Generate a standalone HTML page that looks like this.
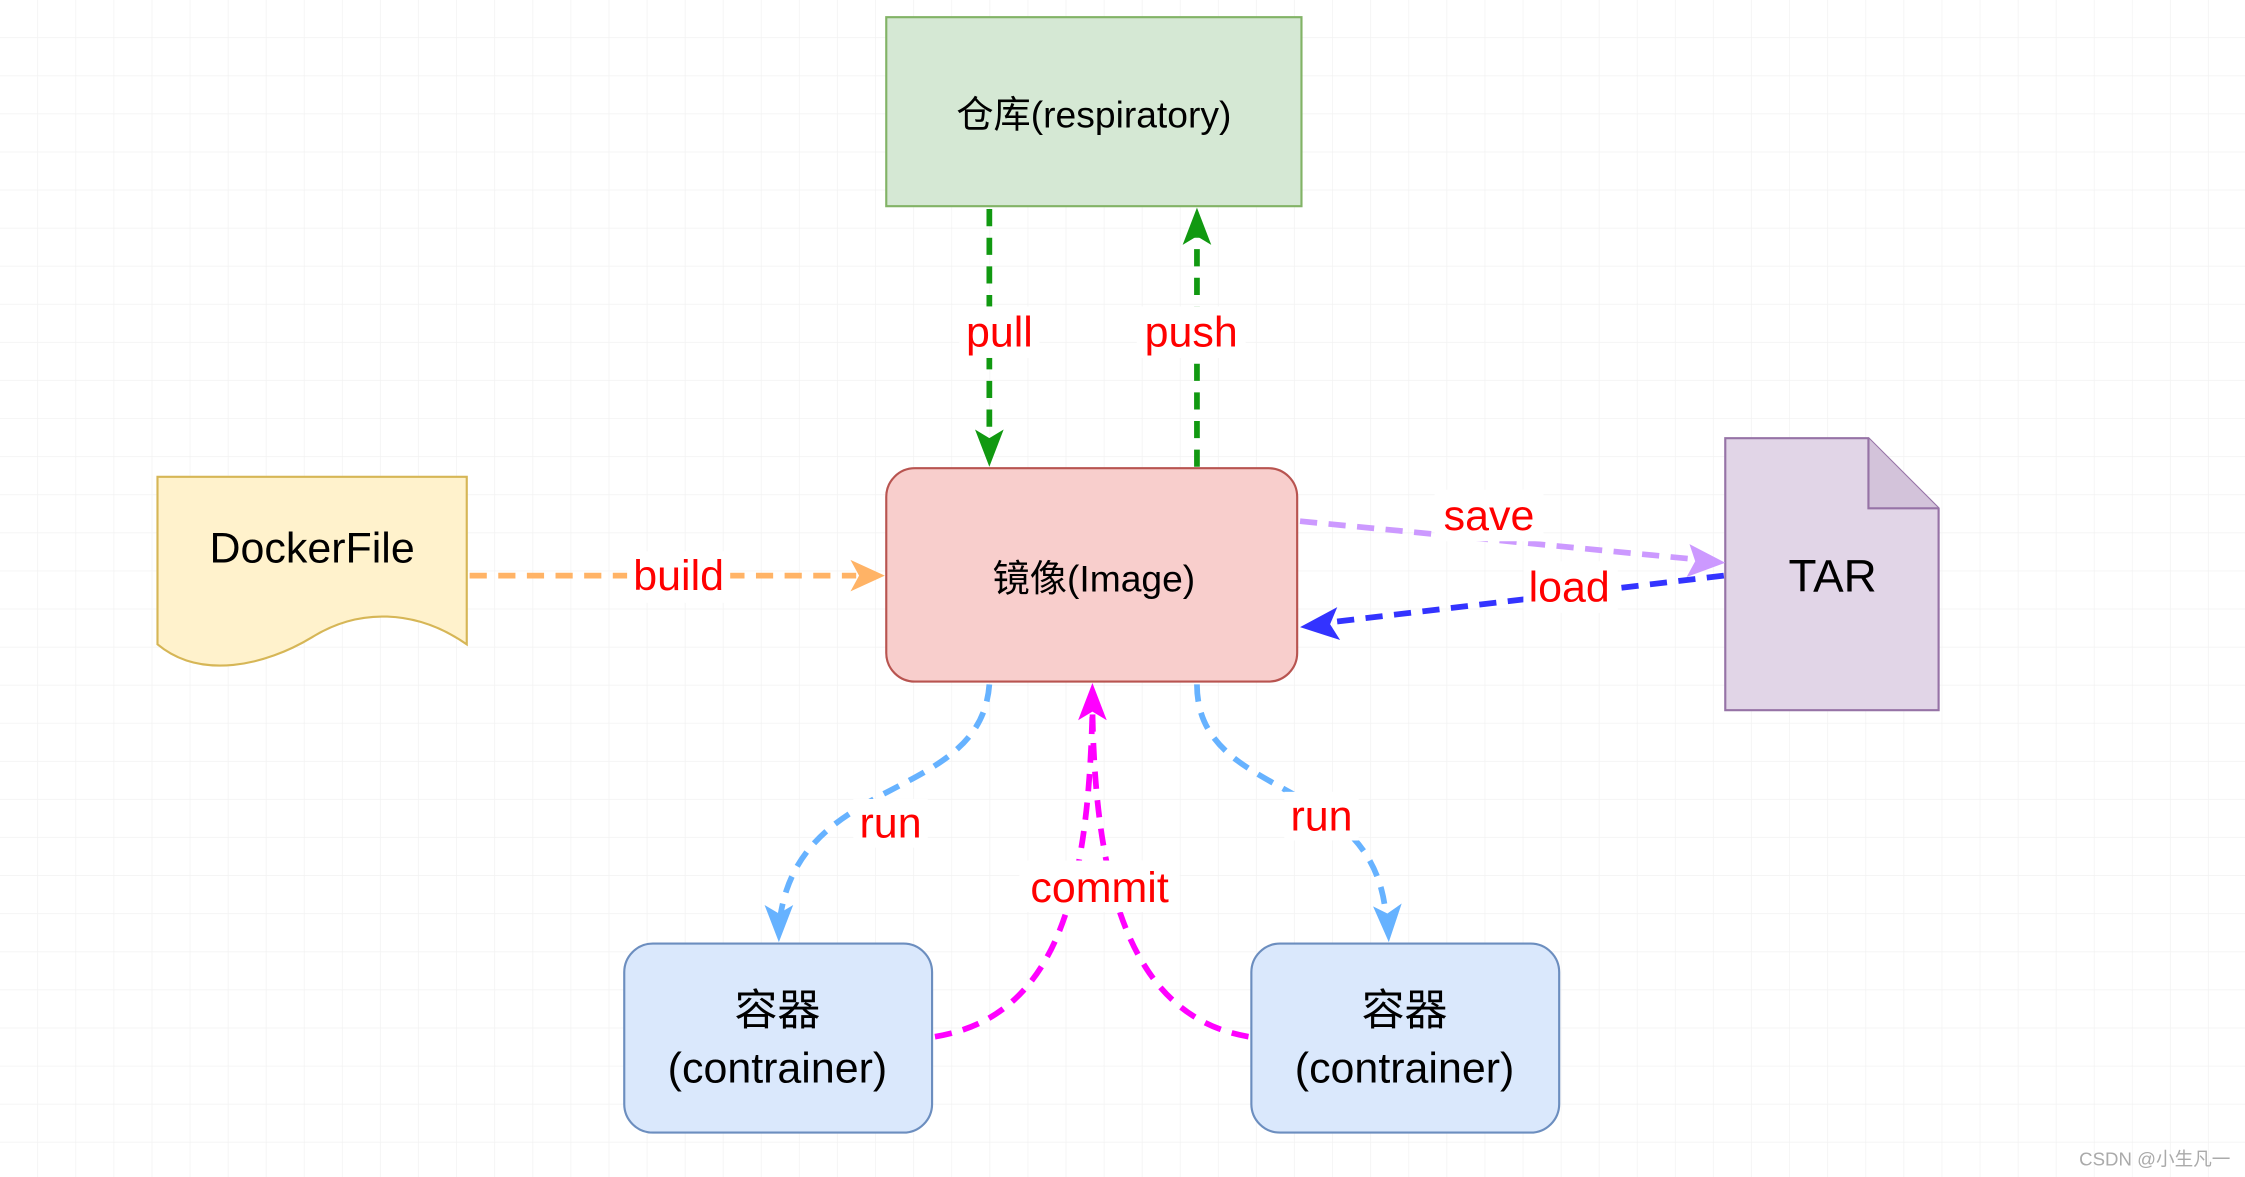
<!DOCTYPE html>
<html><head><meta charset="utf-8"><style>
html,body{margin:0;padding:0;background:#fff;}
svg{display:block;}
text{font-family:"Liberation Sans","Noto Sans CJK SC",sans-serif;}
</style></head><body>
<svg width="2245" height="1177" viewBox="0 0 1568 822" preserveAspectRatio="none" xmlns="http://www.w3.org/2000/svg">
<defs>
<pattern id="g" width="26.6" height="26.6" patternUnits="userSpaceOnUse"><path d="M26.6 0V26.6H0" fill="none" stroke="#f2f2f2" stroke-width="1"/></pattern>
<marker id="ag" markerWidth="10" markerHeight="10" refX="7" refY="5" orient="auto" markerUnits="userSpaceOnUse" viewBox="0 0 10 10"><path d="M0 0L10 5L0 10L3 5Z" fill="#119911"/></marker>
</defs>
<rect width="1568" height="822" fill="#fff"/>
<rect width="1568" height="822" fill="url(#g)"/>
<!-- boxes -->
<rect x="619" y="12" width="290" height="132" fill="#d5e8d4" stroke="#82b366" stroke-width="1.5"/>
<text x="764" y="89" font-size="26" text-anchor="middle">仓库(respiratory)</text>
<rect x="619" y="327" width="287" height="149" rx="20" fill="#f8cecc" stroke="#b85450" stroke-width="1.5"/>
<text x="764" y="413" font-size="26" text-anchor="middle">镜像(Image)</text>
<path d="M110 333H326V450C290 425 250 425 218 445C185 465 140 475 110 450Z" fill="#fff2cc" stroke="#d6b656" stroke-width="1.5"/>
<text x="218" y="393" font-size="30" text-anchor="middle">DockerFile</text>
<path d="M1205 306H1305L1354 355V496H1205Z" fill="#e1d5e7" stroke="#9673a6" stroke-width="1.5"/>
<path d="M1305 306V355H1354" fill="#d3c3da" stroke="#9673a6" stroke-width="1.5"/>
<text x="1280" y="413" font-size="32" text-anchor="middle">TAR</text>
<rect x="436" y="659" width="215" height="132" rx="20" fill="#dae8fc" stroke="#6c8ebf" stroke-width="1.5"/>
<text x="543" y="716" font-size="30" text-anchor="middle">容器</text>
<text x="543" y="756" font-size="30" text-anchor="middle">(contrainer)</text>
<rect x="874" y="659" width="215" height="132" rx="20" fill="#dae8fc" stroke="#6c8ebf" stroke-width="1.5"/>
<text x="981" y="716" font-size="30" text-anchor="middle">容器</text>
<text x="981" y="756" font-size="30" text-anchor="middle">(contrainer)</text>
<!-- connectors -->
<g fill="none" stroke-width="4" stroke-dasharray="12 8">
<path d="M691 146V308" stroke="#119911"/>
<path d="M836 326V165" stroke="#119911"/>
<path d="M328 402H598" stroke="#ffb366"/>
<path d="M908 364L1188 391" stroke="#cc99ff"/>
<path d="M1204 402L926 435" stroke="#3333ff"/>
<path d="M691 478C685 560 560 540 545 640" stroke="#66b2ff"/>
<path d="M836 478C836 560 960 540 968 640" stroke="#66b2ff"/>
<path d="M653 724C740 710 760 620 763 496" stroke="#ff00ff"/>
<path d="M872 724C790 710 765 620 763 496" stroke="#ff00ff"/>
</g>
<!-- arrowheads -->
<path d="M681 300L691 326L701 300L691 306Z" fill="#119911"/>
<path d="M826 171L836 145L846 171L836 165Z" fill="#119911"/>
<path d="M594 391L618 402L594 413L600 402Z" fill="#ffb366"/>
<path d="M1180 380L1205 393L1178 403L1184 392Z" fill="#cc99ff"/>
<path d="M934 424L908 438L936 447L929 436Z" fill="#3333ff"/>
<path d="M534 632L544 658L554 632L544 638Z" fill="#66b2ff"/>
<path d="M959 633L970 658L979 631L969 638Z" fill="#66b2ff"/>
<path d="M753 503L763 477L773 503L763 497Z" fill="#ff00ff"/>
<!-- labels -->
<g font-size="30" fill="#ff0000" text-anchor="middle">
<rect x="670" y="214" width="56" height="36" fill="#fff"/>
<text x="698" y="242">pull</text>
<rect x="794" y="214" width="76" height="36" fill="#fff"/>
<text x="832" y="242">push</text>
<rect x="438" y="385" width="72" height="36" fill="#fff"/>
<text x="474" y="412">build</text>
<rect x="1002" y="342" width="76" height="36" fill="#fff"/>
<text x="1040" y="370">save</text>
<rect x="1064" y="392" width="66" height="36" fill="#fff"/>
<text x="1096" y="420">load</text>
<rect x="596" y="558" width="52" height="34" fill="#fff"/>
<text x="622" y="585">run</text>
<rect x="897" y="553" width="52" height="34" fill="#fff"/>
<text x="923" y="580">run</text>
<rect x="712" y="601" width="112" height="36" fill="#fff"/>
<text x="768" y="630">commit</text>
</g>
<text x="1505" y="814" font-size="13" fill="#aaa" text-anchor="middle">CSDN @小生凡一</text>
</svg>
</body></html>
